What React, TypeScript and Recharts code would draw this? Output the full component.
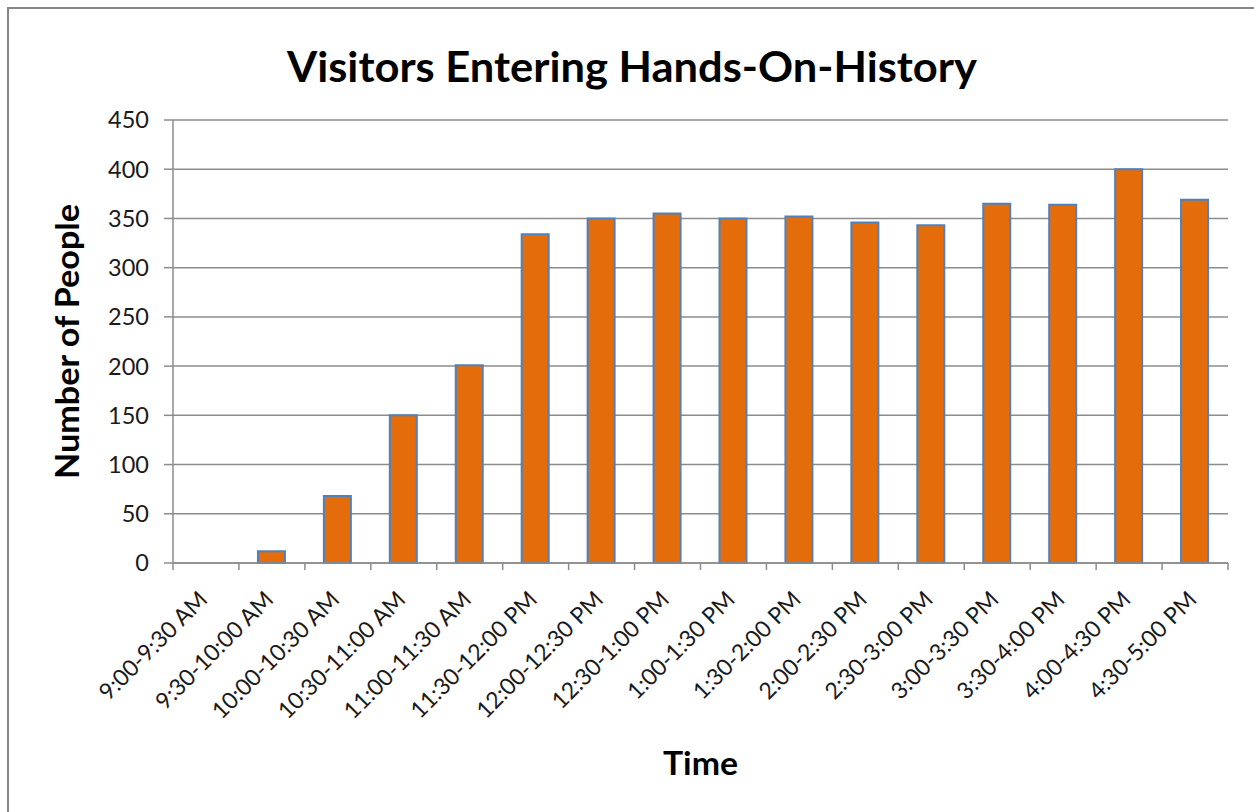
import { Bar, BarChart, CartesianGrid, Label, XAxis, YAxis } from "recharts";

// half-hour entry windows and head counts
const timeSlots = [
  "9:00-9:30 AM",
  "9:30-10:00 AM",
  "10:00-10:30 AM",
  "10:30-11:00 AM",
  "11:00-11:30 AM",
  "11:30-12:00 PM",
  "12:00-12:30 PM",
  "12:30-1:00 PM",
  "1:00-1:30 PM",
  "1:30-2:00 PM",
  "2:00-2:30 PM",
  "2:30-3:00 PM",
  "3:00-3:30 PM",
  "3:30-4:00 PM",
  "4:00-4:30 PM",
  "4:30-5:00 PM",
];
const visitors = [0, 12, 68, 150, 201, 334, 350, 355, 350, 352, 346, 343, 365, 364, 400, 369];
const peopleTicks = [0, 50, 100, 150, 200, 250, 300, 350, 400, 450];

const data = timeSlots.map((slot, i) => ({ slot, visitors: visitors[i] }));

const FONT = "Lato, 'Open Sans', sans-serif";
const GRID = "#8c8c8c";
const TEXT = "#1a1a1a";

function SlotTick(props: any) {
  const { x, y, payload, index, width, visibleTicksCount } = props;
  const step = width / visibleTicksCount;
  const left = x - step / 2;
  const last = index === visibleTicksCount - 1;
  return (
    <g>
      <line x1={left} y1={y} x2={left} y2={y + 7} stroke={GRID} strokeWidth={1.5} />
      {last && <line x1={left + step} y1={y} x2={left + step} y2={y + 7} stroke={GRID} strokeWidth={1.5} />}
      <text
        x={x + 3}
        y={y + 38}
        transform={`rotate(-45, ${x + 3}, ${y + 38})`}
        textAnchor="end"
        fontFamily={FONT}
        fontSize={23}
        fill={TEXT}
      >
        {payload.value}
      </text>
    </g>
  );
}

function PeopleTick(props: any) {
  const { x, y, payload } = props;
  return (
    <text x={x} y={y} dy="0.36em" textAnchor="end" fontFamily={FONT} fontSize={23.5} fill={TEXT}>
      {payload.value}
    </text>
  );
}

export default function App() {
  return (
    <div
      style={{
        position: "absolute",
        left: 0,
        top: 0,
        width: 1254,
        height: 812,
        background: "#fff",
        overflow: "hidden",
      }}
    >
      <div
        style={{
          position: "absolute",
          left: 7,
          top: 7,
          width: 1300,
          height: 900,
          borderTop: "2px solid #878787",
          borderLeft: "2px solid #878787",
        }}
      />
      <div style={{ position: "absolute", left: 0, top: 0 }}>
        <BarChart
          width={1254}
          height={812}
          data={data}
          margin={{ top: 120, right: 26, bottom: 49, left: 73 }}
        >
          <text
            x={632}
            y={82}
            textAnchor="middle"
            fontFamily={FONT}
            fontWeight={700}
            fontSize={42}
            fill="#000"
            textLength={690}
            lengthAdjust="spacingAndGlyphs"
          >
            Visitors Entering Hands-On-History
          </text>
          <CartesianGrid vertical={false} stroke={GRID} strokeWidth={1.5} />
          <XAxis
            dataKey="slot"
            interval={0}
            height={200}
            tickSize={0}
            tickMargin={0}
            tickLine={false}
            axisLine={{ stroke: GRID, strokeWidth: 1.5 }}
            tick={<SlotTick />}
          >
            <Label
              content={({ viewBox }: any) => (
                <text
                  x={viewBox.x + viewBox.width / 2}
                  y={viewBox.y + 212}
                  textAnchor="middle"
                  fontFamily={FONT}
                  fontWeight={700}
                  fontSize={32}
                  fill="#000"
                  textLength={75}
                  lengthAdjust="spacingAndGlyphs"
                >
                  Time
                </text>
              )}
            />
          </XAxis>
          <YAxis
            width={100}
            domain={[0, 450]}
            ticks={peopleTicks}
            interval={0}
            tickSize={9}
            tickMargin={15}
            tickLine={{ stroke: GRID, strokeWidth: 1.5 }}
            axisLine={{ stroke: GRID, strokeWidth: 1.5 }}
            tick={<PeopleTick />}
          >
            <Label
              content={({ viewBox }: any) => {
                const cx = 67;
                const cy = viewBox.y + viewBox.height / 2;
                return (
                  <text
                    x={cx}
                    y={cy}
                    transform={`rotate(-90, ${cx}, ${cy})`}
                    dy="0.36em"
                    textAnchor="middle"
                    fontFamily={FONT}
                    fontWeight={700}
                    fontSize={32}
                    fill="#000"
                    textLength={275}
                    lengthAdjust="spacingAndGlyphs"
                  >
                    Number of People
                  </text>
                );
              }}
            />
          </YAxis>
          <Bar
            dataKey="visitors"
            fill="#E46C0A"
            stroke="#4F81BD"
            strokeWidth={2}
            barSize={27}
            isAnimationActive={false}
          />
        </BarChart>
      </div>
    </div>
  );
}
